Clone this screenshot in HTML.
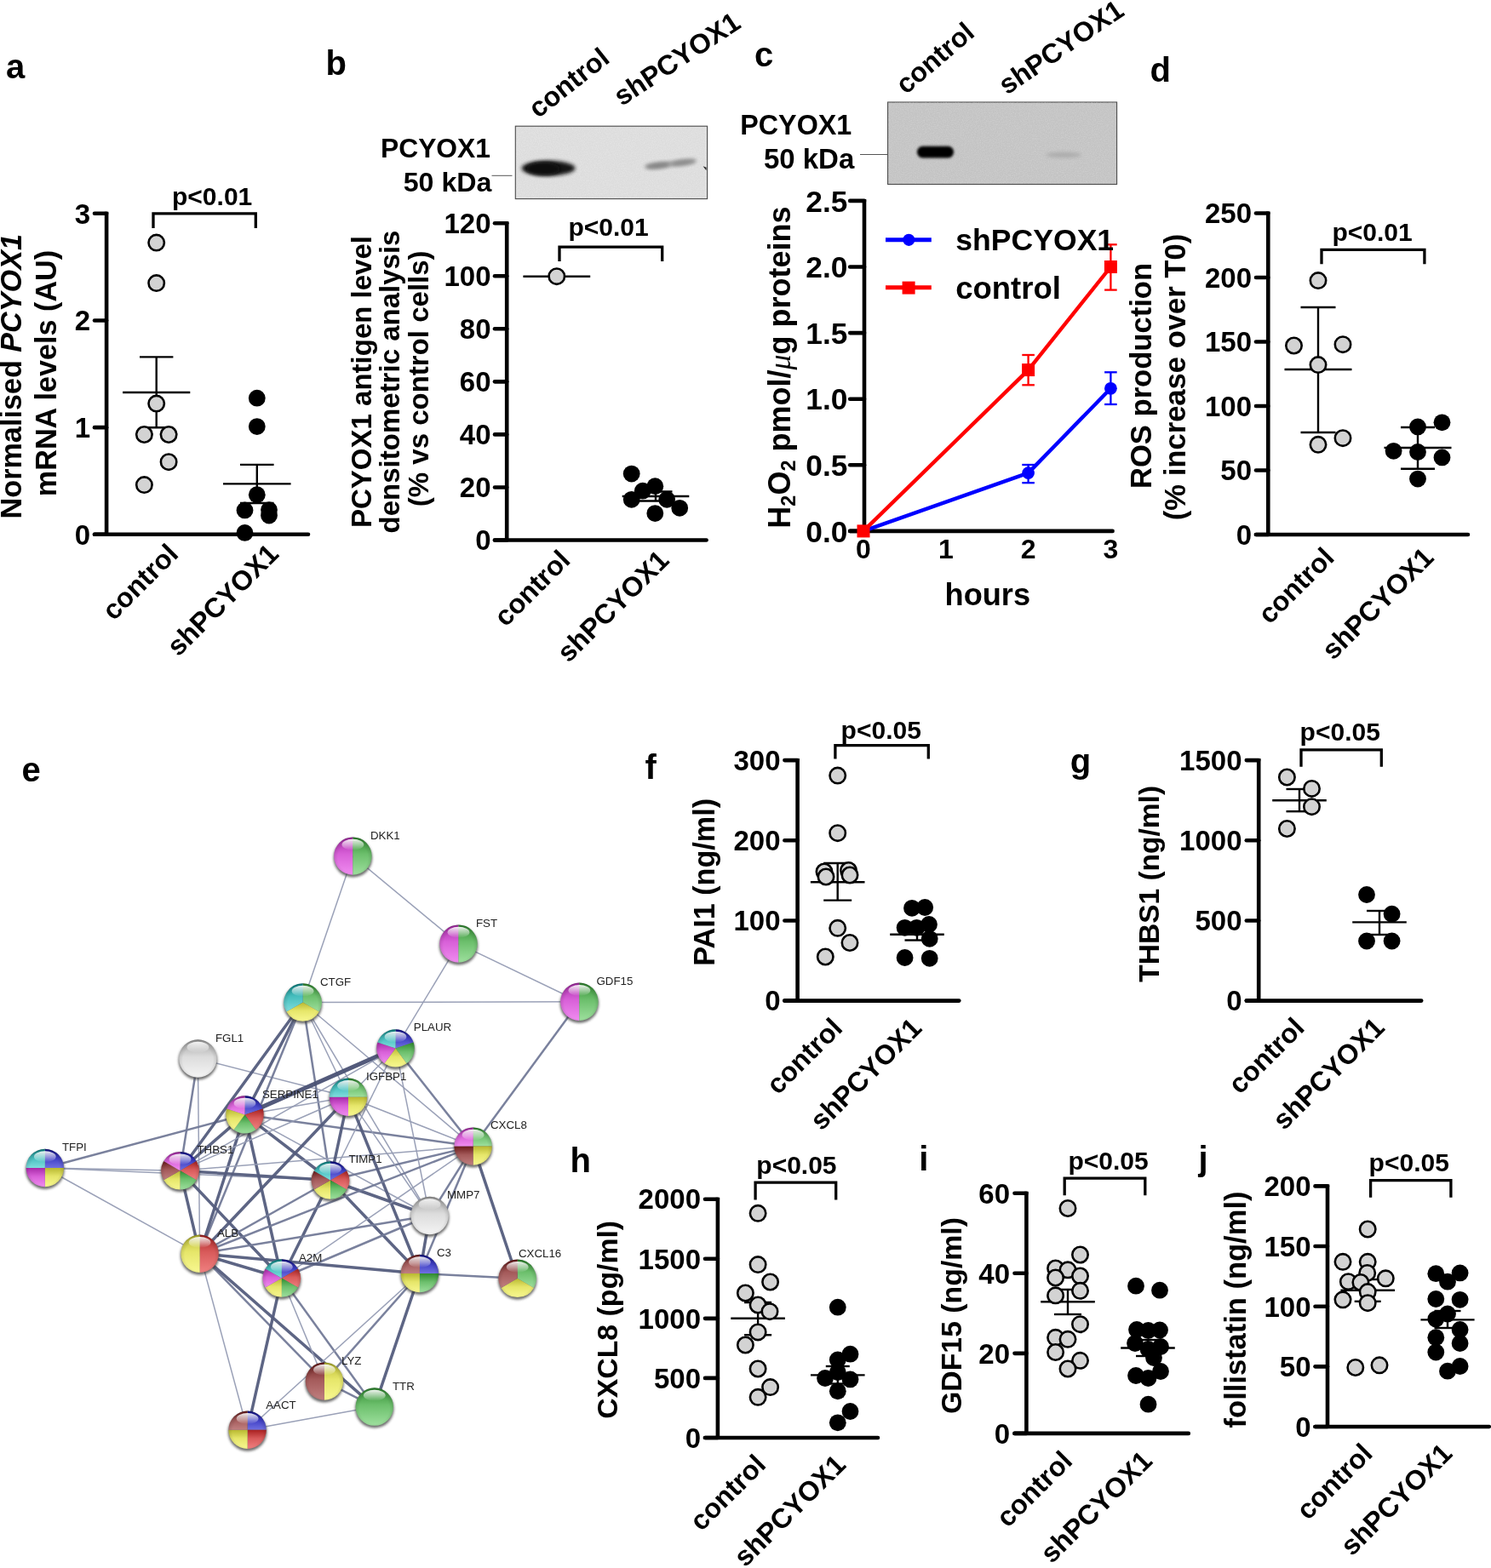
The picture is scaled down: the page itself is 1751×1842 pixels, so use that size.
<!DOCTYPE html>
<html><head><meta charset="utf-8"><title>PCYOX1 figure</title><style>html,body{margin:0;padding:0;background:#fff;}svg{display:block;}</style></head><body><svg xmlns="http://www.w3.org/2000/svg" width="1751" height="1842" viewBox="0 0 1751 1842" font-family="'Liberation Sans', Arial, Helvetica, sans-serif"><defs><filter id="blur2" x="-50%" y="-50%" width="200%" height="200%"><feGaussianBlur stdDeviation="2"/></filter><filter id="blur15" x="-50%" y="-50%" width="200%" height="200%"><feGaussianBlur stdDeviation="1.5"/></filter><filter id="blur25" x="-50%" y="-50%" width="200%" height="200%"><feGaussianBlur stdDeviation="2.5"/></filter><filter id="shadow" x="-50%" y="-50%" width="200%" height="200%"><feGaussianBlur stdDeviation="1.6"/></filter><linearGradient id="g_magenta" x1="0" y1="0" x2="0" y2="1"><stop offset="0" stop-color="#a82aa8"/><stop offset="0.45" stop-color="#d860d8"/><stop offset="1" stop-color="#f08cf0"/></linearGradient><linearGradient id="g_green" x1="0" y1="0" x2="0" y2="1"><stop offset="0" stop-color="#2f8a2f"/><stop offset="0.45" stop-color="#6cbf6c"/><stop offset="1" stop-color="#9ee09e"/></linearGradient><linearGradient id="g_cyan" x1="0" y1="0" x2="0" y2="1"><stop offset="0" stop-color="#0f8a8a"/><stop offset="0.45" stop-color="#45bdbd"/><stop offset="1" stop-color="#80dede"/></linearGradient><linearGradient id="g_yellow" x1="0" y1="0" x2="0" y2="1"><stop offset="0" stop-color="#b8b830"/><stop offset="0.45" stop-color="#e6e66a"/><stop offset="1" stop-color="#f8f890"/></linearGradient><linearGradient id="g_blue" x1="0" y1="0" x2="0" y2="1"><stop offset="0" stop-color="#10108a"/><stop offset="0.45" stop-color="#3c3cc4"/><stop offset="1" stop-color="#7070e0"/></linearGradient><linearGradient id="g_red" x1="0" y1="0" x2="0" y2="1"><stop offset="0" stop-color="#a82020"/><stop offset="0.45" stop-color="#d85a5a"/><stop offset="1" stop-color="#f08080"/></linearGradient><linearGradient id="g_brown" x1="0" y1="0" x2="0" y2="1"><stop offset="0" stop-color="#6a1a1a"/><stop offset="0.45" stop-color="#a45a5a"/><stop offset="1" stop-color="#c08080"/></linearGradient><linearGradient id="g_white" x1="0" y1="0" x2="0" y2="1"><stop offset="0" stop-color="#a0a0a0"/><stop offset="0.45" stop-color="#dcdcdc"/><stop offset="1" stop-color="#f4f4f4"/></linearGradient><radialGradient id="rim" cx="0.5" cy="0.55" r="0.55"><stop offset="0.72" stop-color="#000" stop-opacity="0"/><stop offset="0.93" stop-color="#000" stop-opacity="0.12"/><stop offset="1" stop-color="#000" stop-opacity="0.3"/></radialGradient><linearGradient id="hl" x1="0" y1="0" x2="0" y2="1"><stop offset="0" stop-color="#fff" stop-opacity="0.92"/><stop offset="0.55" stop-color="#fff" stop-opacity="0.45"/><stop offset="1" stop-color="#fff" stop-opacity="0"/></linearGradient><filter id="noiseB" x="0" y="0" width="100%" height="100%"><feTurbulence type="fractalNoise" baseFrequency="0.8" numOctaves="2" seed="3"/><feColorMatrix type="matrix" values="0 0 0 0 0.86  0 0 0 0 0.86  0 0 0 0 0.86  0 0 0 -1.6 1.05"/></filter><filter id="noiseC" x="0" y="0" width="100%" height="100%"><feTurbulence type="fractalNoise" baseFrequency="0.8" numOctaves="2" seed="7"/><feColorMatrix type="matrix" values="0 0 0 0 0.74  0 0 0 0 0.74  0 0 0 0 0.74  0 0 0 -1.6 1.05"/></filter><pattern id="blotNoiseB" width="6" height="6" patternUnits="userSpaceOnUse"><rect width="6" height="6" fill="#dcdcdc"/><rect x="1" y="2" width="1" height="1" fill="#cfcfcf"/><rect x="4" y="4" width="1" height="1" fill="#e6e6e6"/></pattern><pattern id="blotNoiseC" width="6" height="6" patternUnits="userSpaceOnUse"><rect width="6" height="6" fill="#c3c3c3"/><rect x="2" y="1" width="1" height="1" fill="#b9b9b9"/><rect x="4" y="4" width="1" height="1" fill="#cbcbcb"/></pattern></defs><rect width="1751" height="1842" fill="#fff"/><text x="25.5" y="918" font-size="40" font-weight="bold" text-anchor="start" fill="#000">e</text>
<line x1="414.4" y1="1005.6" x2="355.6" y2="1177.5" stroke="#959cb4" stroke-width="1.5" stroke-linecap="butt" opacity="0.95"/>
<line x1="414.4" y1="1005.6" x2="538.5" y2="1108.6" stroke="#959cb4" stroke-width="1.5" stroke-linecap="butt" opacity="0.95"/>
<line x1="538.5" y1="1108.6" x2="680.4" y2="1176.8" stroke="#959cb4" stroke-width="1.5" stroke-linecap="butt" opacity="0.95"/>
<line x1="538.5" y1="1108.6" x2="464.5" y2="1231.4" stroke="#959cb4" stroke-width="1.5" stroke-linecap="butt" opacity="0.95"/>
<line x1="355.6" y1="1177.5" x2="680.4" y2="1176.8" stroke="#959cb4" stroke-width="1.5" stroke-linecap="butt" opacity="0.95"/>
<line x1="680.4" y1="1176.8" x2="555.6" y2="1346.6" stroke="#737b98" stroke-width="2.5" stroke-linecap="butt" opacity="0.95"/>
<line x1="232.4" y1="1243.5" x2="211.5" y2="1375.2" stroke="#737b98" stroke-width="2.5" stroke-linecap="butt" opacity="0.95"/>
<line x1="232.4" y1="1243.5" x2="234.6" y2="1472.8" stroke="#959cb4" stroke-width="1.5" stroke-linecap="butt" opacity="0.95"/>
<line x1="232.4" y1="1243.5" x2="409" y2="1288.8" stroke="#959cb4" stroke-width="1.5" stroke-linecap="butt" opacity="0.95"/>
<line x1="52.8" y1="1372" x2="287.5" y2="1309.4" stroke="#737b98" stroke-width="2.5" stroke-linecap="butt" opacity="0.95"/>
<line x1="52.8" y1="1372" x2="211.5" y2="1375.2" stroke="#959cb4" stroke-width="1.5" stroke-linecap="butt" opacity="0.95"/>
<line x1="52.8" y1="1372" x2="234.6" y2="1472.8" stroke="#959cb4" stroke-width="1.5" stroke-linecap="butt" opacity="0.95"/>
<line x1="52.8" y1="1372" x2="388" y2="1386.5" stroke="#959cb4" stroke-width="1.5" stroke-linecap="butt" opacity="0.95"/>
<line x1="355.6" y1="1177.5" x2="287.5" y2="1309.4" stroke="#555d7e" stroke-width="3.5" stroke-linecap="butt" opacity="0.95"/>
<line x1="355.6" y1="1177.5" x2="211.5" y2="1375.2" stroke="#555d7e" stroke-width="3.5" stroke-linecap="butt" opacity="0.95"/>
<line x1="355.6" y1="1177.5" x2="234.6" y2="1472.8" stroke="#737b98" stroke-width="2.5" stroke-linecap="butt" opacity="0.95"/>
<line x1="355.6" y1="1177.5" x2="388" y2="1386.5" stroke="#737b98" stroke-width="2.5" stroke-linecap="butt" opacity="0.95"/>
<line x1="355.6" y1="1177.5" x2="555.6" y2="1346.6" stroke="#959cb4" stroke-width="1.5" stroke-linecap="butt" opacity="0.95"/>
<line x1="355.6" y1="1177.5" x2="504.6" y2="1428" stroke="#959cb4" stroke-width="1.5" stroke-linecap="butt" opacity="0.95"/>
<line x1="355.6" y1="1177.5" x2="409" y2="1288.8" stroke="#959cb4" stroke-width="1.5" stroke-linecap="butt" opacity="0.95"/>
<line x1="287.5" y1="1309.4" x2="464.5" y2="1231.4" stroke="#4a5274" stroke-width="5" stroke-linecap="butt" opacity="0.95"/>
<line x1="287.5" y1="1309.4" x2="409" y2="1288.8" stroke="#959cb4" stroke-width="1.5" stroke-linecap="butt" opacity="0.95"/>
<line x1="287.5" y1="1309.4" x2="555.6" y2="1346.6" stroke="#737b98" stroke-width="2.5" stroke-linecap="butt" opacity="0.95"/>
<line x1="287.5" y1="1309.4" x2="211.5" y2="1375.2" stroke="#555d7e" stroke-width="3.5" stroke-linecap="butt" opacity="0.95"/>
<line x1="287.5" y1="1309.4" x2="388" y2="1386.5" stroke="#555d7e" stroke-width="3.5" stroke-linecap="butt" opacity="0.95"/>
<line x1="287.5" y1="1309.4" x2="234.6" y2="1472.8" stroke="#555d7e" stroke-width="3.5" stroke-linecap="butt" opacity="0.95"/>
<line x1="287.5" y1="1309.4" x2="330.8" y2="1501.5" stroke="#555d7e" stroke-width="3.5" stroke-linecap="butt" opacity="0.95"/>
<line x1="287.5" y1="1309.4" x2="504.6" y2="1428" stroke="#959cb4" stroke-width="1.5" stroke-linecap="butt" opacity="0.95"/>
<line x1="211.5" y1="1375.2" x2="388" y2="1386.5" stroke="#555d7e" stroke-width="3.5" stroke-linecap="butt" opacity="0.95"/>
<line x1="211.5" y1="1375.2" x2="555.6" y2="1346.6" stroke="#959cb4" stroke-width="1.5" stroke-linecap="butt" opacity="0.95"/>
<line x1="211.5" y1="1375.2" x2="234.6" y2="1472.8" stroke="#555d7e" stroke-width="3.5" stroke-linecap="butt" opacity="0.95"/>
<line x1="211.5" y1="1375.2" x2="330.8" y2="1501.5" stroke="#555d7e" stroke-width="3.5" stroke-linecap="butt" opacity="0.95"/>
<line x1="211.5" y1="1375.2" x2="409" y2="1288.8" stroke="#959cb4" stroke-width="1.5" stroke-linecap="butt" opacity="0.95"/>
<line x1="211.5" y1="1375.2" x2="464.5" y2="1231.4" stroke="#959cb4" stroke-width="1.5" stroke-linecap="butt" opacity="0.95"/>
<line x1="388" y1="1386.5" x2="409" y2="1288.8" stroke="#555d7e" stroke-width="3.5" stroke-linecap="butt" opacity="0.95"/>
<line x1="388" y1="1386.5" x2="555.6" y2="1346.6" stroke="#737b98" stroke-width="2.5" stroke-linecap="butt" opacity="0.95"/>
<line x1="388" y1="1386.5" x2="504.6" y2="1428" stroke="#555d7e" stroke-width="3.5" stroke-linecap="butt" opacity="0.95"/>
<line x1="388" y1="1386.5" x2="492.9" y2="1496" stroke="#555d7e" stroke-width="3.5" stroke-linecap="butt" opacity="0.95"/>
<line x1="388" y1="1386.5" x2="330.8" y2="1501.5" stroke="#555d7e" stroke-width="3.5" stroke-linecap="butt" opacity="0.95"/>
<line x1="388" y1="1386.5" x2="234.6" y2="1472.8" stroke="#737b98" stroke-width="2.5" stroke-linecap="butt" opacity="0.95"/>
<line x1="388" y1="1386.5" x2="464.5" y2="1231.4" stroke="#959cb4" stroke-width="1.5" stroke-linecap="butt" opacity="0.95"/>
<line x1="409" y1="1288.8" x2="234.6" y2="1472.8" stroke="#555d7e" stroke-width="3.5" stroke-linecap="butt" opacity="0.95"/>
<line x1="409" y1="1288.8" x2="492.9" y2="1496" stroke="#555d7e" stroke-width="3.5" stroke-linecap="butt" opacity="0.95"/>
<line x1="409" y1="1288.8" x2="555.6" y2="1346.6" stroke="#959cb4" stroke-width="1.5" stroke-linecap="butt" opacity="0.95"/>
<line x1="409" y1="1288.8" x2="504.6" y2="1428" stroke="#959cb4" stroke-width="1.5" stroke-linecap="butt" opacity="0.95"/>
<line x1="409" y1="1288.8" x2="464.5" y2="1231.4" stroke="#959cb4" stroke-width="1.5" stroke-linecap="butt" opacity="0.95"/>
<line x1="464.5" y1="1231.4" x2="555.6" y2="1346.6" stroke="#737b98" stroke-width="2.5" stroke-linecap="butt" opacity="0.95"/>
<line x1="464.5" y1="1231.4" x2="504.6" y2="1428" stroke="#959cb4" stroke-width="1.5" stroke-linecap="butt" opacity="0.95"/>
<line x1="555.6" y1="1346.6" x2="504.6" y2="1428" stroke="#737b98" stroke-width="2.5" stroke-linecap="butt" opacity="0.95"/>
<line x1="555.6" y1="1346.6" x2="492.9" y2="1496" stroke="#737b98" stroke-width="2.5" stroke-linecap="butt" opacity="0.95"/>
<line x1="555.6" y1="1346.6" x2="607.7" y2="1501.8" stroke="#555d7e" stroke-width="3.5" stroke-linecap="butt" opacity="0.95"/>
<line x1="555.6" y1="1346.6" x2="234.6" y2="1472.8" stroke="#737b98" stroke-width="2.5" stroke-linecap="butt" opacity="0.95"/>
<line x1="555.6" y1="1346.6" x2="330.8" y2="1501.5" stroke="#959cb4" stroke-width="1.5" stroke-linecap="butt" opacity="0.95"/>
<line x1="504.6" y1="1428" x2="492.9" y2="1496" stroke="#555d7e" stroke-width="3.5" stroke-linecap="butt" opacity="0.95"/>
<line x1="504.6" y1="1428" x2="234.6" y2="1472.8" stroke="#737b98" stroke-width="2.5" stroke-linecap="butt" opacity="0.95"/>
<line x1="504.6" y1="1428" x2="330.8" y2="1501.5" stroke="#737b98" stroke-width="2.5" stroke-linecap="butt" opacity="0.95"/>
<line x1="234.6" y1="1472.8" x2="330.8" y2="1501.5" stroke="#555d7e" stroke-width="3.5" stroke-linecap="butt" opacity="0.95"/>
<line x1="234.6" y1="1472.8" x2="492.9" y2="1496" stroke="#555d7e" stroke-width="3.5" stroke-linecap="butt" opacity="0.95"/>
<line x1="234.6" y1="1472.8" x2="380.9" y2="1622.6" stroke="#737b98" stroke-width="2.5" stroke-linecap="butt" opacity="0.95"/>
<line x1="234.6" y1="1472.8" x2="439.8" y2="1652.6" stroke="#555d7e" stroke-width="3.5" stroke-linecap="butt" opacity="0.95"/>
<line x1="234.6" y1="1472.8" x2="290.6" y2="1679.8" stroke="#959cb4" stroke-width="1.5" stroke-linecap="butt" opacity="0.95"/>
<line x1="330.8" y1="1501.5" x2="290.6" y2="1679.8" stroke="#555d7e" stroke-width="3.5" stroke-linecap="butt" opacity="0.95"/>
<line x1="330.8" y1="1501.5" x2="380.9" y2="1622.6" stroke="#959cb4" stroke-width="1.5" stroke-linecap="butt" opacity="0.95"/>
<line x1="330.8" y1="1501.5" x2="439.8" y2="1652.6" stroke="#737b98" stroke-width="2.5" stroke-linecap="butt" opacity="0.95"/>
<line x1="492.9" y1="1496" x2="607.7" y2="1501.8" stroke="#737b98" stroke-width="2.5" stroke-linecap="butt" opacity="0.95"/>
<line x1="492.9" y1="1496" x2="439.8" y2="1652.6" stroke="#555d7e" stroke-width="3.5" stroke-linecap="butt" opacity="0.95"/>
<line x1="492.9" y1="1496" x2="380.9" y2="1622.6" stroke="#737b98" stroke-width="2.5" stroke-linecap="butt" opacity="0.95"/>
<line x1="492.9" y1="1496" x2="290.6" y2="1679.8" stroke="#959cb4" stroke-width="1.5" stroke-linecap="butt" opacity="0.95"/>
<line x1="380.9" y1="1622.6" x2="439.8" y2="1652.6" stroke="#737b98" stroke-width="2.5" stroke-linecap="butt" opacity="0.95"/>
<line x1="290.6" y1="1679.8" x2="439.8" y2="1652.6" stroke="#959cb4" stroke-width="1.5" stroke-linecap="butt" opacity="0.95"/>
<circle cx="414.4" cy="1007.8" r="22.8" fill="#3a3a3a" opacity="0.75" filter="url(#shadow)"/>
<path d="M414.4 1005.6 L414.4 983.4 A22.2 22.2 0 0 0 414.4 1027.8 Z" fill="url(#g_magenta)"/>
<path d="M414.4 1005.6 L414.4 1027.8 A22.2 22.2 0 0 0 414.4 983.4 Z" fill="url(#g_green)"/>
<circle cx="414.4" cy="1005.6" r="22.2" fill="url(#rim)"/>
<ellipse cx="414.4" cy="992.28" rx="12.88" ry="6.44" fill="url(#hl)"/>
<text x="435" y="985.5" font-size="13.3" font-weight="normal" fill="#222">DKK1</text>
<circle cx="538.5" cy="1110.8" r="22.8" fill="#3a3a3a" opacity="0.75" filter="url(#shadow)"/>
<path d="M538.5 1108.6 L538.5 1086.4 A22.2 22.2 0 0 0 538.5 1130.8 Z" fill="url(#g_magenta)"/>
<path d="M538.5 1108.6 L538.5 1130.8 A22.2 22.2 0 0 0 538.5 1086.4 Z" fill="url(#g_green)"/>
<circle cx="538.5" cy="1108.6" r="22.2" fill="url(#rim)"/>
<ellipse cx="538.5" cy="1095.28" rx="12.88" ry="6.44" fill="url(#hl)"/>
<text x="559" y="1088.5" font-size="13.3" font-weight="normal" fill="#222">FST</text>
<circle cx="680.4" cy="1179" r="22.8" fill="#3a3a3a" opacity="0.75" filter="url(#shadow)"/>
<path d="M680.4 1176.8 L680.4 1154.6 A22.2 22.2 0 0 0 680.4 1199 Z" fill="url(#g_magenta)"/>
<path d="M680.4 1176.8 L680.4 1199 A22.2 22.2 0 0 0 680.4 1154.6 Z" fill="url(#g_green)"/>
<circle cx="680.4" cy="1176.8" r="22.2" fill="url(#rim)"/>
<ellipse cx="680.4" cy="1163.48" rx="12.88" ry="6.44" fill="url(#hl)"/>
<text x="700.5" y="1157" font-size="13.3" font-weight="normal" fill="#222">GDF15</text>
<circle cx="355.6" cy="1179.7" r="22.8" fill="#3a3a3a" opacity="0.75" filter="url(#shadow)"/>
<path d="M355.6 1177.5 L374.83 1188.6 A22.2 22.2 0 0 0 355.6 1155.3 Z" fill="url(#g_green)"/>
<path d="M355.6 1177.5 L336.37 1188.6 A22.2 22.2 0 0 0 374.83 1188.6 Z" fill="url(#g_yellow)"/>
<path d="M355.6 1177.5 L355.6 1155.3 A22.2 22.2 0 0 0 336.37 1188.6 Z" fill="url(#g_cyan)"/>
<circle cx="355.6" cy="1177.5" r="22.2" fill="url(#rim)"/>
<ellipse cx="355.6" cy="1164.18" rx="12.88" ry="6.44" fill="url(#hl)"/>
<text x="376" y="1158" font-size="13.3" font-weight="normal" fill="#222">CTGF</text>
<circle cx="464.5" cy="1233.6" r="22.8" fill="#3a3a3a" opacity="0.75" filter="url(#shadow)"/>
<path d="M464.5 1231.4 L485.61 1224.54 A22.2 22.2 0 0 0 464.5 1209.2 Z" fill="url(#g_blue)"/>
<path d="M464.5 1231.4 L477.55 1249.36 A22.2 22.2 0 0 0 485.61 1224.54 Z" fill="url(#g_green)"/>
<path d="M464.5 1231.4 L451.45 1249.36 A22.2 22.2 0 0 0 477.55 1249.36 Z" fill="url(#g_yellow)"/>
<path d="M464.5 1231.4 L443.39 1224.54 A22.2 22.2 0 0 0 451.45 1249.36 Z" fill="url(#g_magenta)"/>
<path d="M464.5 1231.4 L464.5 1209.2 A22.2 22.2 0 0 0 443.39 1224.54 Z" fill="url(#g_cyan)"/>
<circle cx="464.5" cy="1231.4" r="22.2" fill="url(#rim)"/>
<ellipse cx="464.5" cy="1218.08" rx="12.88" ry="6.44" fill="url(#hl)"/>
<text x="485.8" y="1211" font-size="13.3" font-weight="normal" fill="#222">PLAUR</text>
<circle cx="232.4" cy="1245.7" r="22.8" fill="#3a3a3a" opacity="0.75" filter="url(#shadow)"/>
<path d="M232.4 1243.5 m-22.2 0 a22.2 22.2 0 1 0 44.4 0 a22.2 22.2 0 1 0 -44.4 0Z" fill="url(#g_white)"/>
<circle cx="232.4" cy="1243.5" r="22.2" fill="url(#rim)"/>
<ellipse cx="232.4" cy="1230.18" rx="12.88" ry="6.44" fill="url(#hl)"/>
<text x="253" y="1224" font-size="13.3" font-weight="normal" fill="#222">FGL1</text>
<circle cx="409" cy="1291" r="22.8" fill="#3a3a3a" opacity="0.75" filter="url(#shadow)"/>
<path d="M409 1288.8 L431.2 1288.8 A22.2 22.2 0 0 0 409 1266.6 Z" fill="url(#g_green)"/>
<path d="M409 1288.8 L409 1311 A22.2 22.2 0 0 0 431.2 1288.8 Z" fill="url(#g_yellow)"/>
<path d="M409 1288.8 L386.8 1288.8 A22.2 22.2 0 0 0 409 1311 Z" fill="url(#g_magenta)"/>
<path d="M409 1288.8 L409 1266.6 A22.2 22.2 0 0 0 386.8 1288.8 Z" fill="url(#g_cyan)"/>
<circle cx="409" cy="1288.8" r="22.2" fill="url(#rim)"/>
<ellipse cx="409" cy="1275.48" rx="12.88" ry="6.44" fill="url(#hl)"/>
<text x="430" y="1268.5" font-size="13.3" font-weight="normal" fill="#222">IGFBP1</text>
<circle cx="287.5" cy="1311.6" r="22.8" fill="#3a3a3a" opacity="0.75" filter="url(#shadow)"/>
<path d="M287.5 1309.4 L308.61 1302.54 A22.2 22.2 0 0 0 287.5 1287.2 Z" fill="url(#g_blue)"/>
<path d="M287.5 1309.4 L300.55 1327.36 A22.2 22.2 0 0 0 308.61 1302.54 Z" fill="url(#g_red)"/>
<path d="M287.5 1309.4 L274.45 1327.36 A22.2 22.2 0 0 0 300.55 1327.36 Z" fill="url(#g_green)"/>
<path d="M287.5 1309.4 L266.39 1302.54 A22.2 22.2 0 0 0 274.45 1327.36 Z" fill="url(#g_yellow)"/>
<path d="M287.5 1309.4 L287.5 1287.2 A22.2 22.2 0 0 0 266.39 1302.54 Z" fill="url(#g_magenta)"/>
<circle cx="287.5" cy="1309.4" r="22.2" fill="url(#rim)"/>
<ellipse cx="287.5" cy="1296.08" rx="12.88" ry="6.44" fill="url(#hl)"/>
<text x="308" y="1290" font-size="13.3" font-weight="normal" fill="#222">SERPINE1</text>
<circle cx="555.6" cy="1348.8" r="22.8" fill="#3a3a3a" opacity="0.75" filter="url(#shadow)"/>
<path d="M555.6 1346.6 L577.8 1346.6 A22.2 22.2 0 0 0 555.6 1324.4 Z" fill="url(#g_green)"/>
<path d="M555.6 1346.6 L555.6 1368.8 A22.2 22.2 0 0 0 577.8 1346.6 Z" fill="url(#g_yellow)"/>
<path d="M555.6 1346.6 L533.4 1346.6 A22.2 22.2 0 0 0 555.6 1368.8 Z" fill="url(#g_brown)"/>
<path d="M555.6 1346.6 L555.6 1324.4 A22.2 22.2 0 0 0 533.4 1346.6 Z" fill="url(#g_magenta)"/>
<circle cx="555.6" cy="1346.6" r="22.2" fill="url(#rim)"/>
<ellipse cx="555.6" cy="1333.28" rx="12.88" ry="6.44" fill="url(#hl)"/>
<text x="576" y="1326" font-size="13.3" font-weight="normal" fill="#222">CXCL8</text>
<circle cx="52.8" cy="1374.2" r="22.8" fill="#3a3a3a" opacity="0.75" filter="url(#shadow)"/>
<path d="M52.8 1372 L75 1372 A22.2 22.2 0 0 0 52.8 1349.8 Z" fill="url(#g_blue)"/>
<path d="M52.8 1372 L52.8 1394.2 A22.2 22.2 0 0 0 75 1372 Z" fill="url(#g_yellow)"/>
<path d="M52.8 1372 L30.6 1372 A22.2 22.2 0 0 0 52.8 1394.2 Z" fill="url(#g_magenta)"/>
<path d="M52.8 1372 L52.8 1349.8 A22.2 22.2 0 0 0 30.6 1372 Z" fill="url(#g_cyan)"/>
<circle cx="52.8" cy="1372" r="22.2" fill="url(#rim)"/>
<ellipse cx="52.8" cy="1358.68" rx="12.88" ry="6.44" fill="url(#hl)"/>
<text x="73" y="1352" font-size="13.3" font-weight="normal" fill="#222">TFPI</text>
<circle cx="211.5" cy="1377.4" r="22.8" fill="#3a3a3a" opacity="0.75" filter="url(#shadow)"/>
<path d="M211.5 1375.2 L230.73 1364.1 A22.2 22.2 0 0 0 211.5 1353 Z" fill="url(#g_blue)"/>
<path d="M211.5 1375.2 L230.73 1386.3 A22.2 22.2 0 0 0 230.73 1364.1 Z" fill="url(#g_red)"/>
<path d="M211.5 1375.2 L211.5 1397.4 A22.2 22.2 0 0 0 230.73 1386.3 Z" fill="url(#g_green)"/>
<path d="M211.5 1375.2 L192.27 1386.3 A22.2 22.2 0 0 0 211.5 1397.4 Z" fill="url(#g_yellow)"/>
<path d="M211.5 1375.2 L192.27 1364.1 A22.2 22.2 0 0 0 192.27 1386.3 Z" fill="url(#g_brown)"/>
<path d="M211.5 1375.2 L211.5 1353 A22.2 22.2 0 0 0 192.27 1364.1 Z" fill="url(#g_magenta)"/>
<circle cx="211.5" cy="1375.2" r="22.2" fill="url(#rim)"/>
<ellipse cx="211.5" cy="1361.88" rx="12.88" ry="6.44" fill="url(#hl)"/>
<text x="231.5" y="1355" font-size="13.3" font-weight="normal" fill="#222">THBS1</text>
<circle cx="388" cy="1388.7" r="22.8" fill="#3a3a3a" opacity="0.75" filter="url(#shadow)"/>
<path d="M388 1386.5 L407.23 1375.4 A22.2 22.2 0 0 0 388 1364.3 Z" fill="url(#g_blue)"/>
<path d="M388 1386.5 L407.23 1397.6 A22.2 22.2 0 0 0 407.23 1375.4 Z" fill="url(#g_red)"/>
<path d="M388 1386.5 L388 1408.7 A22.2 22.2 0 0 0 407.23 1397.6 Z" fill="url(#g_green)"/>
<path d="M388 1386.5 L368.77 1397.6 A22.2 22.2 0 0 0 388 1408.7 Z" fill="url(#g_yellow)"/>
<path d="M388 1386.5 L368.77 1375.4 A22.2 22.2 0 0 0 368.77 1397.6 Z" fill="url(#g_brown)"/>
<path d="M388 1386.5 L388 1364.3 A22.2 22.2 0 0 0 368.77 1375.4 Z" fill="url(#g_cyan)"/>
<circle cx="388" cy="1386.5" r="22.2" fill="url(#rim)"/>
<ellipse cx="388" cy="1373.18" rx="12.88" ry="6.44" fill="url(#hl)"/>
<text x="409.4" y="1366" font-size="13.3" font-weight="normal" fill="#222">TIMP1</text>
<circle cx="504.6" cy="1430.2" r="22.8" fill="#3a3a3a" opacity="0.75" filter="url(#shadow)"/>
<path d="M504.6 1428 m-22.2 0 a22.2 22.2 0 1 0 44.4 0 a22.2 22.2 0 1 0 -44.4 0Z" fill="url(#g_white)"/>
<circle cx="504.6" cy="1428" r="22.2" fill="url(#rim)"/>
<ellipse cx="504.6" cy="1414.68" rx="12.88" ry="6.44" fill="url(#hl)"/>
<text x="525" y="1408" font-size="13.3" font-weight="normal" fill="#222">MMP7</text>
<circle cx="234.6" cy="1475" r="22.8" fill="#3a3a3a" opacity="0.75" filter="url(#shadow)"/>
<path d="M234.6 1472.8 L234.6 1495 A22.2 22.2 0 0 0 234.6 1450.6 Z" fill="url(#g_red)"/>
<path d="M234.6 1472.8 L234.6 1450.6 A22.2 22.2 0 0 0 234.6 1495 Z" fill="url(#g_yellow)"/>
<circle cx="234.6" cy="1472.8" r="22.2" fill="url(#rim)"/>
<ellipse cx="234.6" cy="1459.48" rx="12.88" ry="6.44" fill="url(#hl)"/>
<text x="255" y="1453" font-size="13.3" font-weight="normal" fill="#222">ALB</text>
<circle cx="330.8" cy="1503.7" r="22.8" fill="#3a3a3a" opacity="0.75" filter="url(#shadow)"/>
<path d="M330.8 1501.5 L350.03 1490.4 A22.2 22.2 0 0 0 330.8 1479.3 Z" fill="url(#g_blue)"/>
<path d="M330.8 1501.5 L350.03 1512.6 A22.2 22.2 0 0 0 350.03 1490.4 Z" fill="url(#g_red)"/>
<path d="M330.8 1501.5 L330.8 1523.7 A22.2 22.2 0 0 0 350.03 1512.6 Z" fill="url(#g_green)"/>
<path d="M330.8 1501.5 L311.57 1512.6 A22.2 22.2 0 0 0 330.8 1523.7 Z" fill="url(#g_yellow)"/>
<path d="M330.8 1501.5 L311.57 1490.4 A22.2 22.2 0 0 0 311.57 1512.6 Z" fill="url(#g_magenta)"/>
<path d="M330.8 1501.5 L330.8 1479.3 A22.2 22.2 0 0 0 311.57 1490.4 Z" fill="url(#g_cyan)"/>
<circle cx="330.8" cy="1501.5" r="22.2" fill="url(#rim)"/>
<ellipse cx="330.8" cy="1488.18" rx="12.88" ry="6.44" fill="url(#hl)"/>
<text x="351" y="1481.5" font-size="13.3" font-weight="normal" fill="#222">A2M</text>
<circle cx="492.9" cy="1498.2" r="22.8" fill="#3a3a3a" opacity="0.75" filter="url(#shadow)"/>
<path d="M492.9 1496 L515.1 1496 A22.2 22.2 0 0 0 492.9 1473.8 Z" fill="url(#g_blue)"/>
<path d="M492.9 1496 L492.9 1518.2 A22.2 22.2 0 0 0 515.1 1496 Z" fill="url(#g_green)"/>
<path d="M492.9 1496 L470.7 1496 A22.2 22.2 0 0 0 492.9 1518.2 Z" fill="url(#g_yellow)"/>
<path d="M492.9 1496 L492.9 1473.8 A22.2 22.2 0 0 0 470.7 1496 Z" fill="url(#g_brown)"/>
<circle cx="492.9" cy="1496" r="22.2" fill="url(#rim)"/>
<ellipse cx="492.9" cy="1482.68" rx="12.88" ry="6.44" fill="url(#hl)"/>
<text x="513" y="1476" font-size="13.3" font-weight="normal" fill="#222">C3</text>
<circle cx="607.7" cy="1504" r="22.8" fill="#3a3a3a" opacity="0.75" filter="url(#shadow)"/>
<path d="M607.7 1501.8 L626.93 1512.9 A22.2 22.2 0 0 0 607.7 1479.6 Z" fill="url(#g_green)"/>
<path d="M607.7 1501.8 L588.47 1512.9 A22.2 22.2 0 0 0 626.93 1512.9 Z" fill="url(#g_yellow)"/>
<path d="M607.7 1501.8 L607.7 1479.6 A22.2 22.2 0 0 0 588.47 1512.9 Z" fill="url(#g_brown)"/>
<circle cx="607.7" cy="1501.8" r="22.2" fill="url(#rim)"/>
<ellipse cx="607.7" cy="1488.48" rx="12.88" ry="6.44" fill="url(#hl)"/>
<text x="609" y="1477" font-size="13.3" font-weight="normal" fill="#222">CXCL16</text>
<circle cx="380.9" cy="1624.8" r="22.8" fill="#3a3a3a" opacity="0.75" filter="url(#shadow)"/>
<path d="M380.9 1622.6 L380.9 1644.8 A22.2 22.2 0 0 0 380.9 1600.4 Z" fill="url(#g_yellow)"/>
<path d="M380.9 1622.6 L380.9 1600.4 A22.2 22.2 0 0 0 380.9 1644.8 Z" fill="url(#g_brown)"/>
<circle cx="380.9" cy="1622.6" r="22.2" fill="url(#rim)"/>
<ellipse cx="380.9" cy="1609.28" rx="12.88" ry="6.44" fill="url(#hl)"/>
<text x="401" y="1602.5" font-size="13.3" font-weight="normal" fill="#222">LYZ</text>
<circle cx="439.8" cy="1654.8" r="22.8" fill="#3a3a3a" opacity="0.75" filter="url(#shadow)"/>
<path d="M439.8 1652.6 m-22.2 0 a22.2 22.2 0 1 0 44.4 0 a22.2 22.2 0 1 0 -44.4 0Z" fill="url(#g_green)"/>
<circle cx="439.8" cy="1652.6" r="22.2" fill="url(#rim)"/>
<ellipse cx="439.8" cy="1639.28" rx="12.88" ry="6.44" fill="url(#hl)"/>
<text x="461" y="1633.4" font-size="13.3" font-weight="normal" fill="#222">TTR</text>
<circle cx="290.6" cy="1682" r="22.8" fill="#3a3a3a" opacity="0.75" filter="url(#shadow)"/>
<path d="M290.6 1679.8 L312.8 1679.8 A22.2 22.2 0 0 0 290.6 1657.6 Z" fill="url(#g_blue)"/>
<path d="M290.6 1679.8 L290.6 1702 A22.2 22.2 0 0 0 312.8 1679.8 Z" fill="url(#g_red)"/>
<path d="M290.6 1679.8 L268.4 1679.8 A22.2 22.2 0 0 0 290.6 1702 Z" fill="url(#g_yellow)"/>
<path d="M290.6 1679.8 L290.6 1657.6 A22.2 22.2 0 0 0 268.4 1679.8 Z" fill="url(#g_brown)"/>
<circle cx="290.6" cy="1679.8" r="22.2" fill="url(#rim)"/>
<ellipse cx="290.6" cy="1666.48" rx="12.88" ry="6.44" fill="url(#hl)"/>
<text x="312.2" y="1655.1" font-size="13.3" font-weight="normal" fill="#222">AACT</text>
<text x="6.9" y="91.6" font-size="40" font-weight="bold" text-anchor="start" fill="#000">a</text>
<line x1="125.1" y1="248.79" x2="125.1" y2="627.8" stroke="#000" stroke-width="4.6" stroke-linecap="butt"/>
<line x1="111" y1="627.8" x2="125.1" y2="627.8" stroke="#000" stroke-width="4.6" stroke-linecap="round"/>
<text x="106" y="639.61" font-size="33" font-weight="bold" text-anchor="end" fill="#000">0</text>
<line x1="111" y1="502.13" x2="125.1" y2="502.13" stroke="#000" stroke-width="4.6" stroke-linecap="round"/>
<text x="106" y="513.94" font-size="33" font-weight="bold" text-anchor="end" fill="#000">1</text>
<line x1="111" y1="376.46" x2="125.1" y2="376.46" stroke="#000" stroke-width="4.6" stroke-linecap="round"/>
<text x="106" y="388.27" font-size="33" font-weight="bold" text-anchor="end" fill="#000">2</text>
<line x1="111" y1="250.79" x2="125.1" y2="250.79" stroke="#000" stroke-width="4.6" stroke-linecap="round"/>
<text x="106" y="262.6" font-size="33" font-weight="bold" text-anchor="end" fill="#000">3</text>
<line x1="111" y1="627.8" x2="362" y2="627.8" stroke="#000" stroke-width="4.6" stroke-linecap="round"/>
<text font-size="34.2" font-weight="bold" text-anchor="middle" transform="translate(25.3 442.2) rotate(-90)">Normalised <tspan font-style="italic">PCYOX1</tspan></text>
<text font-size="34.2" font-weight="bold" text-anchor="middle" transform="translate(66.3 438.5) rotate(-90)">mRNA levels (AU)</text>
<line x1="144.1" y1="461" x2="223.3" y2="461" stroke="#000" stroke-width="2.4" stroke-linecap="butt"/>
<line x1="183.7" y1="419.4" x2="183.7" y2="502.2" stroke="#000" stroke-width="2.4" stroke-linecap="butt"/>
<line x1="164" y1="419.4" x2="203.4" y2="419.4" stroke="#000" stroke-width="2.4" stroke-linecap="butt"/>
<line x1="164" y1="502.2" x2="203.4" y2="502.2" stroke="#000" stroke-width="2.4" stroke-linecap="butt"/>
<circle cx="183.7" cy="285.1" r="9.2" fill="#d3d3d3" stroke="#000" stroke-width="2.6"/>
<circle cx="183.7" cy="332.6" r="9.2" fill="#d3d3d3" stroke="#000" stroke-width="2.6"/>
<circle cx="183.7" cy="474.1" r="9.2" fill="#d3d3d3" stroke="#000" stroke-width="2.6"/>
<circle cx="169.4" cy="510.5" r="9.2" fill="#d3d3d3" stroke="#000" stroke-width="2.6"/>
<circle cx="198.1" cy="510.5" r="9.2" fill="#d3d3d3" stroke="#000" stroke-width="2.6"/>
<circle cx="198.1" cy="542.7" r="9.2" fill="#d3d3d3" stroke="#000" stroke-width="2.6"/>
<circle cx="169.4" cy="569.6" r="9.2" fill="#d3d3d3" stroke="#000" stroke-width="2.6"/>
<line x1="262" y1="568.4" x2="341.6" y2="568.4" stroke="#000" stroke-width="2.4" stroke-linecap="butt"/>
<line x1="301.8" y1="545.9" x2="301.8" y2="591" stroke="#000" stroke-width="2.4" stroke-linecap="butt"/>
<line x1="282" y1="545.9" x2="321.6" y2="545.9" stroke="#000" stroke-width="2.4" stroke-linecap="butt"/>
<line x1="282" y1="591" x2="321.6" y2="591" stroke="#000" stroke-width="2.4" stroke-linecap="butt"/>
<circle cx="301.8" cy="467.7" r="9.9" fill="#000"/>
<circle cx="301.8" cy="501.1" r="9.9" fill="#000"/>
<circle cx="301.8" cy="581.2" r="9.9" fill="#000"/>
<circle cx="287.5" cy="599.4" r="9.9" fill="#000"/>
<circle cx="316" cy="599.1" r="9.9" fill="#000"/>
<circle cx="316" cy="605.6" r="9.9" fill="#000"/>
<circle cx="287.5" cy="625.9" r="9.9" fill="#000"/>
<path d="M180 268 L180 250.8 L300.3 250.8 L300.3 268" fill="none" stroke="#000" stroke-width="3.3" stroke-linejoin="miter"/>
<text x="249.14" y="240.8" font-size="30" font-weight="bold" text-anchor="middle" fill="#000">p&lt;0.01</text>
<text x="211" y="652.6" font-size="32.4" font-weight="bold" text-anchor="end" fill="#000" transform="rotate(-45 211 652.6)">control</text>
<text x="329.1" y="652.6" font-size="32.4" font-weight="bold" text-anchor="end" fill="#000" transform="rotate(-45 329.1 652.6)">shPCYOX1</text>
<text x="382.5" y="88.4" font-size="40" font-weight="bold" text-anchor="start" fill="#000">b</text>
<line x1="595.2" y1="260.2" x2="595.2" y2="634.5" stroke="#000" stroke-width="4.6" stroke-linecap="butt"/>
<line x1="581" y1="634.5" x2="595.2" y2="634.5" stroke="#000" stroke-width="4.6" stroke-linecap="round"/>
<text x="576.5" y="646.31" font-size="33" font-weight="bold" text-anchor="end" fill="#000">0</text>
<line x1="581" y1="572.45" x2="595.2" y2="572.45" stroke="#000" stroke-width="4.6" stroke-linecap="round"/>
<text x="576.5" y="584.26" font-size="33" font-weight="bold" text-anchor="end" fill="#000">20</text>
<line x1="581" y1="510.4" x2="595.2" y2="510.4" stroke="#000" stroke-width="4.6" stroke-linecap="round"/>
<text x="576.5" y="522.21" font-size="33" font-weight="bold" text-anchor="end" fill="#000">40</text>
<line x1="581" y1="448.35" x2="595.2" y2="448.35" stroke="#000" stroke-width="4.6" stroke-linecap="round"/>
<text x="576.5" y="460.16" font-size="33" font-weight="bold" text-anchor="end" fill="#000">60</text>
<line x1="581" y1="386.3" x2="595.2" y2="386.3" stroke="#000" stroke-width="4.6" stroke-linecap="round"/>
<text x="576.5" y="398.11" font-size="33" font-weight="bold" text-anchor="end" fill="#000">80</text>
<line x1="581" y1="324.25" x2="595.2" y2="324.25" stroke="#000" stroke-width="4.6" stroke-linecap="round"/>
<text x="576.5" y="336.06" font-size="33" font-weight="bold" text-anchor="end" fill="#000">100</text>
<line x1="581" y1="262.2" x2="595.2" y2="262.2" stroke="#000" stroke-width="4.6" stroke-linecap="round"/>
<text x="576.5" y="274.01" font-size="33" font-weight="bold" text-anchor="end" fill="#000">120</text>
<line x1="581" y1="634.5" x2="829.6" y2="634.5" stroke="#000" stroke-width="4.6" stroke-linecap="round"/>
<text font-size="33" font-weight="bold" text-anchor="middle" transform="translate(435.5 448.5) rotate(-90)">PCYOX1 antigen level</text>
<text font-size="33" font-weight="bold" text-anchor="middle" transform="translate(469.3 448.5) rotate(-90)">densitometric analysis</text>
<text font-size="33" font-weight="bold" text-anchor="middle" transform="translate(502.5 444.8) rotate(-90)">(% vs control cells)</text>
<line x1="614.4" y1="324.7" x2="693.2" y2="324.7" stroke="#000" stroke-width="2.4" stroke-linecap="butt"/>
<line x1="653.8" y1="324.7" x2="653.8" y2="324.7" stroke="#000" stroke-width="2.4" stroke-linecap="butt"/>
<line x1="653.8" y1="324.7" x2="653.8" y2="324.7" stroke="#000" stroke-width="2.4" stroke-linecap="butt"/>
<line x1="653.8" y1="324.7" x2="653.8" y2="324.7" stroke="#000" stroke-width="2.4" stroke-linecap="butt"/>
<circle cx="653.8" cy="324.7" r="9.2" fill="#d3d3d3" stroke="#000" stroke-width="2.6"/>
<line x1="730.7" y1="583" x2="809.3" y2="583" stroke="#000" stroke-width="2.4" stroke-linecap="butt"/>
<line x1="770" y1="577.5" x2="770" y2="588.5" stroke="#000" stroke-width="2.4" stroke-linecap="butt"/>
<line x1="750.5" y1="577.5" x2="789.5" y2="577.5" stroke="#000" stroke-width="2.4" stroke-linecap="butt"/>
<line x1="750.5" y1="588.5" x2="789.5" y2="588.5" stroke="#000" stroke-width="2.4" stroke-linecap="butt"/>
<circle cx="741.7" cy="556.6" r="9.9" fill="#000"/>
<circle cx="754.8" cy="576.7" r="9.9" fill="#000"/>
<circle cx="769.3" cy="571.2" r="9.9" fill="#000"/>
<circle cx="741.7" cy="586.8" r="9.9" fill="#000"/>
<circle cx="783.2" cy="586.8" r="9.9" fill="#000"/>
<circle cx="769.3" cy="603.1" r="9.9" fill="#000"/>
<circle cx="798.2" cy="596.8" r="9.9" fill="#000"/>
<path d="M657 307 L657 290.2 L777.7 290.2 L777.7 307" fill="none" stroke="#000" stroke-width="3.3" stroke-linejoin="miter"/>
<text x="714.54" y="276.6" font-size="30" font-weight="bold" text-anchor="middle" fill="#000">p&lt;0.01</text>
<text x="671.3" y="659.9" font-size="32.4" font-weight="bold" text-anchor="end" fill="#000" transform="rotate(-45 671.3 659.9)">control</text>
<text x="787.5" y="659.9" font-size="32.4" font-weight="bold" text-anchor="end" fill="#000" transform="rotate(-45 787.5 659.9)">shPCYOX1</text>
<text x="576" y="185.2" font-size="31.8" font-weight="bold" text-anchor="end" fill="#000">PCYOX1</text>
<text x="577.5" y="224.8" font-size="32.2" font-weight="bold" text-anchor="end" fill="#000">50 kDa</text>
<line x1="577.5" y1="206.3" x2="601.5" y2="206.3" stroke="#555" stroke-width="1" stroke-linecap="butt"/>
<rect x="605.3" y="148.2" width="225.3" height="85.4" fill="#dcdcdc" stroke="#4a4a4a" stroke-width="1.1"/>
<rect x="606.2" y="149.1" width="223.5" height="83.6" filter="url(#noiseB)" opacity="0.55"/>
<ellipse cx="644.0" cy="197.6" rx="31.5" ry="8.8" fill="#161616" filter="url(#blur2)"/>
<ellipse cx="638" cy="198.2" rx="20" ry="7.4" fill="#0c0c0c" filter="url(#blur2)"/>
<ellipse cx="788" cy="192.6" rx="29" ry="3.0" fill="#9a9a9a" opacity="0.9" transform="rotate(-7 788 192.6)" filter="url(#blur2)"/>
<ellipse cx="772" cy="194.6" rx="15" ry="3.6" fill="#808080" opacity="0.9" transform="rotate(-6 772 194.6)" filter="url(#blur2)"/>
<ellipse cx="803" cy="190.8" rx="15" ry="3.4" fill="#868686" opacity="0.85" transform="rotate(-8 803 190.8)" filter="url(#blur2)"/>
<path d="M825.6 195.2 L829.6 196.8 L829.4 200.2 Z" fill="#222"/>
<text x="717.7" y="72" font-size="32.3" font-weight="bold" text-anchor="end" fill="#000" transform="rotate(-38.3 717.7 72)">control</text>
<text x="871.9" y="31.5" font-size="32.5" font-weight="bold" text-anchor="end" fill="#000" transform="rotate(-33.5 871.9 31.5)">shPCYOX1</text>
<text x="885.9" y="77.7" font-size="40" font-weight="bold" text-anchor="start" fill="#000">c</text>
<line x1="1015" y1="233.9" x2="1015" y2="623.9" stroke="#000" stroke-width="4.6" stroke-linecap="butt"/>
<line x1="998.2" y1="623.9" x2="1015" y2="623.9" stroke="#000" stroke-width="4.6" stroke-linecap="round"/>
<text x="995.4" y="636.54" font-size="35.3" font-weight="bold" text-anchor="end" fill="#000">0.0</text>
<line x1="998.2" y1="546.3" x2="1015" y2="546.3" stroke="#000" stroke-width="4.6" stroke-linecap="round"/>
<text x="995.4" y="558.94" font-size="35.3" font-weight="bold" text-anchor="end" fill="#000">0.5</text>
<line x1="998.2" y1="468.7" x2="1015" y2="468.7" stroke="#000" stroke-width="4.6" stroke-linecap="round"/>
<text x="995.4" y="481.34" font-size="35.3" font-weight="bold" text-anchor="end" fill="#000">1.0</text>
<line x1="998.2" y1="391.1" x2="1015" y2="391.1" stroke="#000" stroke-width="4.6" stroke-linecap="round"/>
<text x="995.4" y="403.74" font-size="35.3" font-weight="bold" text-anchor="end" fill="#000">1.5</text>
<line x1="998.2" y1="313.5" x2="1015" y2="313.5" stroke="#000" stroke-width="4.6" stroke-linecap="round"/>
<text x="995.4" y="326.14" font-size="35.3" font-weight="bold" text-anchor="end" fill="#000">2.0</text>
<line x1="998.2" y1="235.9" x2="1015" y2="235.9" stroke="#000" stroke-width="4.6" stroke-linecap="round"/>
<text x="995.4" y="248.54" font-size="35.3" font-weight="bold" text-anchor="end" fill="#000">2.5</text>
<line x1="998.2" y1="623.9" x2="1306.6" y2="623.9" stroke="#000" stroke-width="4.6" stroke-linecap="round"/>
<text x="1014" y="656.2" font-size="32" font-weight="bold" text-anchor="middle" fill="#000">0</text>
<text x="1110.8" y="656.2" font-size="32" font-weight="bold" text-anchor="middle" fill="#000">1</text>
<text x="1207.6" y="656.2" font-size="32" font-weight="bold" text-anchor="middle" fill="#000">2</text>
<text x="1304.4" y="656.2" font-size="32" font-weight="bold" text-anchor="middle" fill="#000">3</text>
<text x="1159.8" y="710.6" font-size="36.2" font-weight="bold" text-anchor="middle" fill="#000">hours</text>
<text font-size="36" font-weight="bold" text-anchor="middle" transform="translate(927.6 431.5) rotate(-90)">H<tspan font-size="23.5" dy="6.2">2</tspan><tspan dy="-6.2">O</tspan><tspan font-size="23.5" dy="6.2">2</tspan><tspan dy="-6.2"> pmol/</tspan><tspan font-family="'Liberation Serif', serif" font-weight="normal" font-style="italic">μ</tspan>g proteins</text>
<polyline points="1014,623.9 1207.6,555.61 1304.4,456.28" fill="none" stroke="#0000ff" stroke-width="4.4" stroke-linejoin="round"/>
<polyline points="1014,623.9 1207.6,434.56 1304.4,313.5" fill="none" stroke="#ff0000" stroke-width="4.4" stroke-linejoin="round"/>
<line x1="1207.6" y1="555.61" x2="1207.6" y2="555.61" stroke="#0000ff" stroke-width="2.3" stroke-linecap="butt"/>
<line x1="1207.6" y1="546" x2="1207.6" y2="567.2" stroke="#0000ff" stroke-width="2.3" stroke-linecap="butt"/>
<line x1="1200.3" y1="546" x2="1214.9" y2="546" stroke="#0000ff" stroke-width="2.3" stroke-linecap="butt"/>
<line x1="1200.3" y1="567.2" x2="1214.9" y2="567.2" stroke="#0000ff" stroke-width="2.3" stroke-linecap="butt"/>
<line x1="1304.4" y1="456.28" x2="1304.4" y2="456.28" stroke="#0000ff" stroke-width="2.3" stroke-linecap="butt"/>
<line x1="1304.4" y1="437.3" x2="1304.4" y2="475" stroke="#0000ff" stroke-width="2.3" stroke-linecap="butt"/>
<line x1="1297.1" y1="437.3" x2="1311.7" y2="437.3" stroke="#0000ff" stroke-width="2.3" stroke-linecap="butt"/>
<line x1="1297.1" y1="475" x2="1311.7" y2="475" stroke="#0000ff" stroke-width="2.3" stroke-linecap="butt"/>
<line x1="1207.6" y1="434.56" x2="1207.6" y2="434.56" stroke="#ff0000" stroke-width="2.3" stroke-linecap="butt"/>
<line x1="1207.6" y1="417" x2="1207.6" y2="452.3" stroke="#ff0000" stroke-width="2.3" stroke-linecap="butt"/>
<line x1="1200.3" y1="417" x2="1214.9" y2="417" stroke="#ff0000" stroke-width="2.3" stroke-linecap="butt"/>
<line x1="1200.3" y1="452.3" x2="1214.9" y2="452.3" stroke="#ff0000" stroke-width="2.3" stroke-linecap="butt"/>
<line x1="1304.4" y1="313.5" x2="1304.4" y2="313.5" stroke="#ff0000" stroke-width="2.3" stroke-linecap="butt"/>
<line x1="1304.4" y1="287.3" x2="1304.4" y2="340.6" stroke="#ff0000" stroke-width="2.3" stroke-linecap="butt"/>
<line x1="1297.1" y1="287.3" x2="1311.7" y2="287.3" stroke="#ff0000" stroke-width="2.3" stroke-linecap="butt"/>
<line x1="1297.1" y1="340.6" x2="1311.7" y2="340.6" stroke="#ff0000" stroke-width="2.3" stroke-linecap="butt"/>
<circle cx="1207.6" cy="555.61" r="7.4" fill="#0000ff"/>
<circle cx="1304.4" cy="456.28" r="7.4" fill="#0000ff"/>
<rect x="1006.5" y="616.4" width="15" height="15" fill="#ff0000"/>
<rect x="1200.1" y="427.06" width="15" height="15" fill="#ff0000"/>
<rect x="1296.9" y="306" width="15" height="15" fill="#ff0000"/>
<line x1="1040" y1="281.8" x2="1093.8" y2="281.8" stroke="#0000ff" stroke-width="5" stroke-linecap="butt"/>
<circle cx="1067.3" cy="281.8" r="7.1" fill="#0000ff"/>
<text x="1122.3" y="293.7" font-size="35.6" font-weight="bold" text-anchor="start" fill="#000">shPCYOX1</text>
<line x1="1040" y1="337.8" x2="1093.8" y2="337.8" stroke="#ff0000" stroke-width="5" stroke-linecap="butt"/>
<rect x="1059.6" y="330.6" width="15" height="15" fill="#ff0000"/>
<text x="1122.2" y="350.8" font-size="36.5" font-weight="bold" text-anchor="start" fill="#000">control</text>
<text x="1000.3" y="158.4" font-size="32.3" font-weight="bold" text-anchor="end" fill="#000">PCYOX1</text>
<text x="1003.3" y="198.4" font-size="33" font-weight="bold" text-anchor="end" fill="#000">50 kDa</text>
<line x1="1010" y1="181.5" x2="1042.5" y2="181.5" stroke="#555" stroke-width="1" stroke-linecap="butt"/>
<rect x="1042.6" y="120.0" width="269.0" height="96.5" fill="#c3c3c3" stroke="#4a4a4a" stroke-width="1.1"/>
<rect x="1043.5" y="120.9" width="267.2" height="94.7" filter="url(#noiseC)" opacity="0.45"/>
<rect x="1077" y="171.8" width="43" height="13.6" rx="6.5" fill="#050505" filter="url(#blur15)"/>
<ellipse cx="1249" cy="182" rx="21" ry="3.2" fill="#acacac" filter="url(#blur2)"/>
<text x="1146.4" y="41.1" font-size="32.1" font-weight="bold" text-anchor="end" fill="#000" transform="rotate(-40.5 1146.4 41.1)">control</text>
<text x="1322" y="16.8" font-size="32.3" font-weight="bold" text-anchor="end" fill="#000" transform="rotate(-34.3 1322 16.8)">shPCYOX1</text>
<text x="1350.4" y="95.7" font-size="40" font-weight="bold" text-anchor="start" fill="#000">d</text>
<line x1="1489.3" y1="248.5" x2="1489.3" y2="628" stroke="#000" stroke-width="4.6" stroke-linecap="butt"/>
<line x1="1475" y1="628" x2="1489.3" y2="628" stroke="#000" stroke-width="4.6" stroke-linecap="round"/>
<text x="1470" y="639.81" font-size="33" font-weight="bold" text-anchor="end" fill="#000">0</text>
<line x1="1475" y1="552.5" x2="1489.3" y2="552.5" stroke="#000" stroke-width="4.6" stroke-linecap="round"/>
<text x="1470" y="564.31" font-size="33" font-weight="bold" text-anchor="end" fill="#000">50</text>
<line x1="1475" y1="477" x2="1489.3" y2="477" stroke="#000" stroke-width="4.6" stroke-linecap="round"/>
<text x="1470" y="488.81" font-size="33" font-weight="bold" text-anchor="end" fill="#000">100</text>
<line x1="1475" y1="401.5" x2="1489.3" y2="401.5" stroke="#000" stroke-width="4.6" stroke-linecap="round"/>
<text x="1470" y="413.31" font-size="33" font-weight="bold" text-anchor="end" fill="#000">150</text>
<line x1="1475" y1="326" x2="1489.3" y2="326" stroke="#000" stroke-width="4.6" stroke-linecap="round"/>
<text x="1470" y="337.81" font-size="33" font-weight="bold" text-anchor="end" fill="#000">200</text>
<line x1="1475" y1="250.5" x2="1489.3" y2="250.5" stroke="#000" stroke-width="4.6" stroke-linecap="round"/>
<text x="1470" y="262.31" font-size="33" font-weight="bold" text-anchor="end" fill="#000">250</text>
<line x1="1475" y1="628" x2="1724" y2="628" stroke="#000" stroke-width="4.6" stroke-linecap="round"/>
<text font-size="34.6" font-weight="bold" text-anchor="middle" transform="translate(1351.5 441.5) rotate(-90)">ROS production</text>
<text font-size="34.6" font-weight="bold" text-anchor="middle" transform="translate(1392.3 443) rotate(-90)">(% increase over T0)</text>
<line x1="1508.5" y1="434" x2="1587.5" y2="434" stroke="#000" stroke-width="2.4" stroke-linecap="butt"/>
<line x1="1548" y1="361" x2="1548" y2="508" stroke="#000" stroke-width="2.4" stroke-linecap="butt"/>
<line x1="1527.5" y1="361" x2="1568.5" y2="361" stroke="#000" stroke-width="2.4" stroke-linecap="butt"/>
<line x1="1527.5" y1="508" x2="1568.5" y2="508" stroke="#000" stroke-width="2.4" stroke-linecap="butt"/>
<circle cx="1548" cy="329.6" r="9.2" fill="#d3d3d3" stroke="#000" stroke-width="2.6"/>
<circle cx="1519.5" cy="406" r="9.2" fill="#d3d3d3" stroke="#000" stroke-width="2.6"/>
<circle cx="1577" cy="404.7" r="9.2" fill="#d3d3d3" stroke="#000" stroke-width="2.6"/>
<circle cx="1548" cy="428.6" r="9.2" fill="#d3d3d3" stroke="#000" stroke-width="2.6"/>
<circle cx="1577" cy="514.7" r="9.2" fill="#d3d3d3" stroke="#000" stroke-width="2.6"/>
<circle cx="1548" cy="522.3" r="9.2" fill="#d3d3d3" stroke="#000" stroke-width="2.6"/>
<line x1="1625.5" y1="526" x2="1704.5" y2="526" stroke="#000" stroke-width="2.4" stroke-linecap="butt"/>
<line x1="1665" y1="502" x2="1665" y2="550.7" stroke="#000" stroke-width="2.4" stroke-linecap="butt"/>
<line x1="1645" y1="502" x2="1685" y2="502" stroke="#000" stroke-width="2.4" stroke-linecap="butt"/>
<line x1="1645" y1="550.7" x2="1685" y2="550.7" stroke="#000" stroke-width="2.4" stroke-linecap="butt"/>
<circle cx="1665" cy="501.4" r="9.9" fill="#000"/>
<circle cx="1693.5" cy="496.3" r="9.9" fill="#000"/>
<circle cx="1636.6" cy="529.8" r="9.9" fill="#000"/>
<circle cx="1665" cy="531" r="9.9" fill="#000"/>
<circle cx="1693.5" cy="537.4" r="9.9" fill="#000"/>
<circle cx="1665" cy="562.6" r="9.9" fill="#000"/>
<path d="M1552 310.2 L1552 293.4 L1672.9 293.4 L1672.9 310.2" fill="none" stroke="#000" stroke-width="3.3" stroke-linejoin="miter"/>
<text x="1611.54" y="283" font-size="30" font-weight="bold" text-anchor="middle" fill="#000">p&lt;0.01</text>
<text x="1568.5" y="656.8" font-size="32.4" font-weight="bold" text-anchor="end" fill="#000" transform="rotate(-45 1568.5 656.8)">control</text>
<text x="1685.5" y="656.8" font-size="32.4" font-weight="bold" text-anchor="end" fill="#000" transform="rotate(-45 1685.5 656.8)">shPCYOX1</text>
<text x="757.5" y="915.4" font-size="40" font-weight="bold" text-anchor="start" fill="#000">f</text>
<line x1="936.6" y1="891.09" x2="936.6" y2="1175.6" stroke="#000" stroke-width="4.6" stroke-linecap="butt"/>
<line x1="921.4" y1="1175.6" x2="936.6" y2="1175.6" stroke="#000" stroke-width="4.6" stroke-linecap="round"/>
<text x="916.5" y="1187.41" font-size="33" font-weight="bold" text-anchor="end" fill="#000">0</text>
<line x1="921.4" y1="1081.43" x2="936.6" y2="1081.43" stroke="#000" stroke-width="4.6" stroke-linecap="round"/>
<text x="916.5" y="1093.24" font-size="33" font-weight="bold" text-anchor="end" fill="#000">100</text>
<line x1="921.4" y1="987.26" x2="936.6" y2="987.26" stroke="#000" stroke-width="4.6" stroke-linecap="round"/>
<text x="916.5" y="999.07" font-size="33" font-weight="bold" text-anchor="end" fill="#000">200</text>
<line x1="921.4" y1="893.09" x2="936.6" y2="893.09" stroke="#000" stroke-width="4.6" stroke-linecap="round"/>
<text x="916.5" y="904.9" font-size="33" font-weight="bold" text-anchor="end" fill="#000">300</text>
<line x1="921.4" y1="1175.6" x2="1126.3" y2="1175.6" stroke="#000" stroke-width="4.6" stroke-linecap="round"/>
<text font-size="34.2" font-weight="bold" text-anchor="middle" transform="translate(839.1 1036.3) rotate(-90)">PAI1 (ng/ml)</text>
<line x1="951.9" y1="1036.3" x2="1015.5" y2="1036.3" stroke="#000" stroke-width="2.4" stroke-linecap="butt"/>
<line x1="983.7" y1="1014" x2="983.7" y2="1057.6" stroke="#000" stroke-width="2.4" stroke-linecap="butt"/>
<line x1="967.2" y1="1014" x2="1000.2" y2="1014" stroke="#000" stroke-width="2.4" stroke-linecap="butt"/>
<line x1="967.2" y1="1057.6" x2="1000.2" y2="1057.6" stroke="#000" stroke-width="2.4" stroke-linecap="butt"/>
<circle cx="983.7" cy="911.1" r="9.2" fill="#d3d3d3" stroke="#000" stroke-width="2.6"/>
<circle cx="983.7" cy="978.7" r="9.2" fill="#d3d3d3" stroke="#000" stroke-width="2.6"/>
<circle cx="968" cy="1024" r="9.2" fill="#d3d3d3" stroke="#000" stroke-width="2.6"/>
<circle cx="970" cy="1030" r="9.2" fill="#d3d3d3" stroke="#000" stroke-width="2.6"/>
<circle cx="996.5" cy="1022.5" r="9.2" fill="#d3d3d3" stroke="#000" stroke-width="2.6"/>
<circle cx="998" cy="1028" r="9.2" fill="#d3d3d3" stroke="#000" stroke-width="2.6"/>
<circle cx="983.7" cy="1090.3" r="9.2" fill="#d3d3d3" stroke="#000" stroke-width="2.6"/>
<circle cx="998" cy="1107.5" r="9.2" fill="#d3d3d3" stroke="#000" stroke-width="2.6"/>
<circle cx="969.3" cy="1124" r="9.2" fill="#d3d3d3" stroke="#000" stroke-width="2.6"/>
<line x1="1045.2" y1="1097.8" x2="1108.8" y2="1097.8" stroke="#000" stroke-width="2.4" stroke-linecap="butt"/>
<line x1="1077" y1="1086" x2="1077" y2="1104.5" stroke="#000" stroke-width="2.4" stroke-linecap="butt"/>
<line x1="1062.5" y1="1086" x2="1091.5" y2="1086" stroke="#000" stroke-width="2.4" stroke-linecap="butt"/>
<line x1="1062.5" y1="1104.5" x2="1091.5" y2="1104.5" stroke="#000" stroke-width="2.4" stroke-linecap="butt"/>
<circle cx="1071" cy="1066.8" r="9.9" fill="#000"/>
<circle cx="1086.2" cy="1066" r="9.9" fill="#000"/>
<circle cx="1062.6" cy="1089.8" r="9.9" fill="#000"/>
<circle cx="1076.5" cy="1089.8" r="9.9" fill="#000"/>
<circle cx="1091" cy="1086" r="9.9" fill="#000"/>
<circle cx="1091.7" cy="1102.8" r="9.9" fill="#000"/>
<circle cx="1062.6" cy="1125" r="9.9" fill="#000"/>
<circle cx="1091.7" cy="1125.8" r="9.9" fill="#000"/>
<path d="M980.9 891.4 L980.9 875.7 L1090.3 875.7 L1090.3 891.4" fill="none" stroke="#000" stroke-width="3.3" stroke-linejoin="miter"/>
<text x="1034.74" y="868.2" font-size="30" font-weight="bold" text-anchor="middle" fill="#000">p&lt;0.05</text>
<text x="991" y="1209.6" font-size="32.4" font-weight="bold" text-anchor="end" fill="#000" transform="rotate(-45 991 1209.6)">control</text>
<text x="1084.3" y="1209.6" font-size="32.4" font-weight="bold" text-anchor="end" fill="#000" transform="rotate(-45 1084.3 1209.6)">shPCYOX1</text>
<text x="1256.7" y="907.9" font-size="40" font-weight="bold" text-anchor="start" fill="#000">g</text>
<line x1="1478.2" y1="891.09" x2="1478.2" y2="1175.6" stroke="#000" stroke-width="4.6" stroke-linecap="butt"/>
<line x1="1463.8" y1="1175.6" x2="1478.2" y2="1175.6" stroke="#000" stroke-width="4.6" stroke-linecap="round"/>
<text x="1458.5" y="1187.41" font-size="33" font-weight="bold" text-anchor="end" fill="#000">0</text>
<line x1="1463.8" y1="1081.43" x2="1478.2" y2="1081.43" stroke="#000" stroke-width="4.6" stroke-linecap="round"/>
<text x="1458.5" y="1093.24" font-size="33" font-weight="bold" text-anchor="end" fill="#000">500</text>
<line x1="1463.8" y1="987.26" x2="1478.2" y2="987.26" stroke="#000" stroke-width="4.6" stroke-linecap="round"/>
<text x="1458.5" y="999.07" font-size="33" font-weight="bold" text-anchor="end" fill="#000">1000</text>
<line x1="1463.8" y1="893.09" x2="1478.2" y2="893.09" stroke="#000" stroke-width="4.6" stroke-linecap="round"/>
<text x="1458.5" y="904.9" font-size="33" font-weight="bold" text-anchor="end" fill="#000">1500</text>
<line x1="1463.8" y1="1175.6" x2="1669.2" y2="1175.6" stroke="#000" stroke-width="4.6" stroke-linecap="round"/>
<text font-size="33.5" font-weight="bold" text-anchor="middle" transform="translate(1360.6 1038.3) rotate(-90)">THBS1 (ng/ml)</text>
<line x1="1494.2" y1="940.2" x2="1557.8" y2="940.2" stroke="#000" stroke-width="2.4" stroke-linecap="butt"/>
<line x1="1526" y1="927" x2="1526" y2="953.2" stroke="#000" stroke-width="2.4" stroke-linecap="butt"/>
<line x1="1510.5" y1="927" x2="1541.5" y2="927" stroke="#000" stroke-width="2.4" stroke-linecap="butt"/>
<line x1="1510.5" y1="953.2" x2="1541.5" y2="953.2" stroke="#000" stroke-width="2.4" stroke-linecap="butt"/>
<circle cx="1511.4" cy="913" r="9.2" fill="#d3d3d3" stroke="#000" stroke-width="2.6"/>
<circle cx="1540.5" cy="926.4" r="9.2" fill="#d3d3d3" stroke="#000" stroke-width="2.6"/>
<circle cx="1540.5" cy="947.7" r="9.2" fill="#d3d3d3" stroke="#000" stroke-width="2.6"/>
<circle cx="1511.4" cy="973.5" r="9.2" fill="#d3d3d3" stroke="#000" stroke-width="2.6"/>
<line x1="1588.2" y1="1083.4" x2="1651.8" y2="1083.4" stroke="#000" stroke-width="2.4" stroke-linecap="butt"/>
<line x1="1620" y1="1070" x2="1620" y2="1098" stroke="#000" stroke-width="2.4" stroke-linecap="butt"/>
<line x1="1605" y1="1070" x2="1635" y2="1070" stroke="#000" stroke-width="2.4" stroke-linecap="butt"/>
<line x1="1605" y1="1098" x2="1635" y2="1098" stroke="#000" stroke-width="2.4" stroke-linecap="butt"/>
<circle cx="1605" cy="1051" r="9.9" fill="#000"/>
<circle cx="1634.6" cy="1073.7" r="9.9" fill="#000"/>
<circle cx="1605" cy="1105.5" r="9.9" fill="#000"/>
<circle cx="1634.6" cy="1105.5" r="9.9" fill="#000"/>
<path d="M1528 900.7 L1528 880.9 L1622.3 880.9 L1622.3 900.7" fill="none" stroke="#000" stroke-width="3.3" stroke-linejoin="miter"/>
<text x="1573.74" y="869.6" font-size="30" font-weight="bold" text-anchor="middle" fill="#000">p&lt;0.05</text>
<text x="1533.7" y="1209.1" font-size="32.4" font-weight="bold" text-anchor="end" fill="#000" transform="rotate(-45 1533.7 1209.1)">control</text>
<text x="1627.7" y="1209.1" font-size="32.4" font-weight="bold" text-anchor="end" fill="#000" transform="rotate(-45 1627.7 1209.1)">shPCYOX1</text>
<text x="669.5" y="1376.9" font-size="40" font-weight="bold" text-anchor="start" fill="#000">h</text>
<line x1="842.9" y1="1406.68" x2="842.9" y2="1689" stroke="#000" stroke-width="4.6" stroke-linecap="butt"/>
<line x1="828" y1="1689" x2="842.9" y2="1689" stroke="#000" stroke-width="4.6" stroke-linecap="round"/>
<text x="823" y="1700.81" font-size="33" font-weight="bold" text-anchor="end" fill="#000">0</text>
<line x1="828" y1="1618.92" x2="842.9" y2="1618.92" stroke="#000" stroke-width="4.6" stroke-linecap="round"/>
<text x="823" y="1630.73" font-size="33" font-weight="bold" text-anchor="end" fill="#000">500</text>
<line x1="828" y1="1548.84" x2="842.9" y2="1548.84" stroke="#000" stroke-width="4.6" stroke-linecap="round"/>
<text x="823" y="1560.65" font-size="33" font-weight="bold" text-anchor="end" fill="#000">1000</text>
<line x1="828" y1="1478.76" x2="842.9" y2="1478.76" stroke="#000" stroke-width="4.6" stroke-linecap="round"/>
<text x="823" y="1490.57" font-size="33" font-weight="bold" text-anchor="end" fill="#000">1500</text>
<line x1="828" y1="1408.68" x2="842.9" y2="1408.68" stroke="#000" stroke-width="4.6" stroke-linecap="round"/>
<text x="823" y="1420.49" font-size="33" font-weight="bold" text-anchor="end" fill="#000">2000</text>
<line x1="828" y1="1689" x2="1031" y2="1689" stroke="#000" stroke-width="4.6" stroke-linecap="round"/>
<text font-size="33.8" font-weight="bold" text-anchor="middle" transform="translate(725 1550.3) rotate(-90)">CXCL8 (pg/ml)</text>
<line x1="858.3" y1="1548.7" x2="921.9" y2="1548.7" stroke="#000" stroke-width="2.4" stroke-linecap="butt"/>
<line x1="890.1" y1="1530" x2="890.1" y2="1568.2" stroke="#000" stroke-width="2.4" stroke-linecap="butt"/>
<line x1="874.1" y1="1530" x2="906.1" y2="1530" stroke="#000" stroke-width="2.4" stroke-linecap="butt"/>
<line x1="874.1" y1="1568.2" x2="906.1" y2="1568.2" stroke="#000" stroke-width="2.4" stroke-linecap="butt"/>
<circle cx="890.1" cy="1425.3" r="9.2" fill="#d3d3d3" stroke="#000" stroke-width="2.6"/>
<circle cx="890.1" cy="1485.6" r="9.2" fill="#d3d3d3" stroke="#000" stroke-width="2.6"/>
<circle cx="904.6" cy="1506" r="9.2" fill="#d3d3d3" stroke="#000" stroke-width="2.6"/>
<circle cx="875.4" cy="1519" r="9.2" fill="#d3d3d3" stroke="#000" stroke-width="2.6"/>
<circle cx="890.1" cy="1533" r="9.2" fill="#d3d3d3" stroke="#000" stroke-width="2.6"/>
<circle cx="904" cy="1540.7" r="9.2" fill="#d3d3d3" stroke="#000" stroke-width="2.6"/>
<circle cx="890.1" cy="1564.9" r="9.2" fill="#d3d3d3" stroke="#000" stroke-width="2.6"/>
<circle cx="875.4" cy="1580" r="9.2" fill="#d3d3d3" stroke="#000" stroke-width="2.6"/>
<circle cx="890.1" cy="1608" r="9.2" fill="#d3d3d3" stroke="#000" stroke-width="2.6"/>
<circle cx="904.6" cy="1629.6" r="9.2" fill="#d3d3d3" stroke="#000" stroke-width="2.6"/>
<circle cx="890.1" cy="1641.3" r="9.2" fill="#d3d3d3" stroke="#000" stroke-width="2.6"/>
<line x1="952" y1="1615.4" x2="1015.6" y2="1615.4" stroke="#000" stroke-width="2.4" stroke-linecap="butt"/>
<line x1="983.8" y1="1605" x2="983.8" y2="1625.5" stroke="#000" stroke-width="2.4" stroke-linecap="butt"/>
<line x1="969.8" y1="1605" x2="997.8" y2="1605" stroke="#000" stroke-width="2.4" stroke-linecap="butt"/>
<line x1="969.8" y1="1625.5" x2="997.8" y2="1625.5" stroke="#000" stroke-width="2.4" stroke-linecap="butt"/>
<circle cx="983.8" cy="1535.7" r="9.9" fill="#000"/>
<circle cx="998.5" cy="1590.7" r="9.9" fill="#000"/>
<circle cx="983.8" cy="1597.4" r="9.9" fill="#000"/>
<circle cx="969" cy="1619" r="9.9" fill="#000"/>
<circle cx="983.8" cy="1612" r="9.9" fill="#000"/>
<circle cx="998.5" cy="1620.4" r="9.9" fill="#000"/>
<circle cx="983.8" cy="1634.3" r="9.9" fill="#000"/>
<circle cx="998.5" cy="1658" r="9.9" fill="#000"/>
<circle cx="983.8" cy="1671.3" r="9.9" fill="#000"/>
<path d="M887.1 1409.6 L887.1 1389.1 L981.7 1389.1 L981.7 1409.6" fill="none" stroke="#000" stroke-width="3.3" stroke-linejoin="miter"/>
<text x="935.44" y="1379.3" font-size="30" font-weight="bold" text-anchor="middle" fill="#000">p&lt;0.05</text>
<text x="901.2" y="1722.4" font-size="32.4" font-weight="bold" text-anchor="end" fill="#000" transform="rotate(-45 901.2 1722.4)">control</text>
<text x="994.9" y="1722.4" font-size="32.4" font-weight="bold" text-anchor="end" fill="#000" transform="rotate(-45 994.9 1722.4)">shPCYOX1</text>
<text x="1079.2" y="1374.7" font-size="40" font-weight="bold" text-anchor="start" fill="#000">i</text>
<line x1="1205.4" y1="1399.69" x2="1205.4" y2="1683.9" stroke="#000" stroke-width="4.6" stroke-linecap="butt"/>
<line x1="1191.5" y1="1683.9" x2="1205.4" y2="1683.9" stroke="#000" stroke-width="4.6" stroke-linecap="round"/>
<text x="1186" y="1695.71" font-size="33" font-weight="bold" text-anchor="end" fill="#000">0</text>
<line x1="1191.5" y1="1589.83" x2="1205.4" y2="1589.83" stroke="#000" stroke-width="4.6" stroke-linecap="round"/>
<text x="1186" y="1601.64" font-size="33" font-weight="bold" text-anchor="end" fill="#000">20</text>
<line x1="1191.5" y1="1495.76" x2="1205.4" y2="1495.76" stroke="#000" stroke-width="4.6" stroke-linecap="round"/>
<text x="1186" y="1507.57" font-size="33" font-weight="bold" text-anchor="end" fill="#000">40</text>
<line x1="1191.5" y1="1401.69" x2="1205.4" y2="1401.69" stroke="#000" stroke-width="4.6" stroke-linecap="round"/>
<text x="1186" y="1413.5" font-size="33" font-weight="bold" text-anchor="end" fill="#000">60</text>
<line x1="1191.5" y1="1683.9" x2="1395.8" y2="1683.9" stroke="#000" stroke-width="4.6" stroke-linecap="round"/>
<text font-size="33.8" font-weight="bold" text-anchor="middle" transform="translate(1129 1545.5) rotate(-90)">GDF15 (ng/ml)</text>
<line x1="1222.2" y1="1529.3" x2="1285.8" y2="1529.3" stroke="#000" stroke-width="2.4" stroke-linecap="butt"/>
<line x1="1254" y1="1514.9" x2="1254" y2="1544" stroke="#000" stroke-width="2.4" stroke-linecap="butt"/>
<line x1="1238" y1="1514.9" x2="1270" y2="1514.9" stroke="#000" stroke-width="2.4" stroke-linecap="butt"/>
<line x1="1238" y1="1544" x2="1270" y2="1544" stroke="#000" stroke-width="2.4" stroke-linecap="butt"/>
<circle cx="1254" cy="1419.5" r="9.2" fill="#d3d3d3" stroke="#000" stroke-width="2.6"/>
<circle cx="1268.5" cy="1474" r="9.2" fill="#d3d3d3" stroke="#000" stroke-width="2.6"/>
<circle cx="1239.6" cy="1490" r="9.2" fill="#d3d3d3" stroke="#000" stroke-width="2.6"/>
<circle cx="1254" cy="1491.8" r="9.2" fill="#d3d3d3" stroke="#000" stroke-width="2.6"/>
<circle cx="1239.6" cy="1501" r="9.2" fill="#d3d3d3" stroke="#000" stroke-width="2.6"/>
<circle cx="1268.5" cy="1499" r="9.2" fill="#d3d3d3" stroke="#000" stroke-width="2.6"/>
<circle cx="1239.6" cy="1521.8" r="9.2" fill="#d3d3d3" stroke="#000" stroke-width="2.6"/>
<circle cx="1268.5" cy="1516.3" r="9.2" fill="#d3d3d3" stroke="#000" stroke-width="2.6"/>
<circle cx="1268.5" cy="1555.7" r="9.2" fill="#d3d3d3" stroke="#000" stroke-width="2.6"/>
<circle cx="1239.6" cy="1571.3" r="9.2" fill="#d3d3d3" stroke="#000" stroke-width="2.6"/>
<circle cx="1254" cy="1573.3" r="9.2" fill="#d3d3d3" stroke="#000" stroke-width="2.6"/>
<circle cx="1239.6" cy="1588.5" r="9.2" fill="#d3d3d3" stroke="#000" stroke-width="2.6"/>
<circle cx="1268.5" cy="1598.3" r="9.2" fill="#d3d3d3" stroke="#000" stroke-width="2.6"/>
<circle cx="1254" cy="1608" r="9.2" fill="#d3d3d3" stroke="#000" stroke-width="2.6"/>
<line x1="1316.2" y1="1583.5" x2="1379.8" y2="1583.5" stroke="#000" stroke-width="2.4" stroke-linecap="butt"/>
<line x1="1348" y1="1574" x2="1348" y2="1593" stroke="#000" stroke-width="2.4" stroke-linecap="butt"/>
<line x1="1334" y1="1574" x2="1362" y2="1574" stroke="#000" stroke-width="2.4" stroke-linecap="butt"/>
<line x1="1334" y1="1593" x2="1362" y2="1593" stroke="#000" stroke-width="2.4" stroke-linecap="butt"/>
<circle cx="1334" cy="1510.7" r="9.9" fill="#000"/>
<circle cx="1362" cy="1515.7" r="9.9" fill="#000"/>
<circle cx="1335" cy="1562" r="9.9" fill="#000"/>
<circle cx="1348.5" cy="1563" r="9.9" fill="#000"/>
<circle cx="1362" cy="1562.5" r="9.9" fill="#000"/>
<circle cx="1333" cy="1578" r="9.9" fill="#000"/>
<circle cx="1348.5" cy="1585" r="9.9" fill="#000"/>
<circle cx="1363" cy="1582" r="9.9" fill="#000"/>
<circle cx="1355" cy="1595" r="9.9" fill="#000"/>
<circle cx="1334" cy="1616" r="9.9" fill="#000"/>
<circle cx="1348.5" cy="1619" r="9.9" fill="#000"/>
<circle cx="1363" cy="1611" r="9.9" fill="#000"/>
<circle cx="1348.5" cy="1649.7" r="9.9" fill="#000"/>
<path d="M1250.2 1404.3 L1250.2 1384.1 L1344.8 1384.1 L1344.8 1404.3" fill="none" stroke="#000" stroke-width="3.3" stroke-linejoin="miter"/>
<text x="1301.54" y="1374.3" font-size="30" font-weight="bold" text-anchor="middle" fill="#000">p&lt;0.05</text>
<text x="1261" y="1718.1" font-size="32.4" font-weight="bold" text-anchor="end" fill="#000" transform="rotate(-45 1261 1718.1)">control</text>
<text x="1355" y="1718.1" font-size="32.4" font-weight="bold" text-anchor="end" fill="#000" transform="rotate(-45 1355 1718.1)">shPCYOX1</text>
<text x="1407.6" y="1375.2" font-size="40" font-weight="bold" text-anchor="start" fill="#000">j</text>
<line x1="1559" y1="1391.4" x2="1559" y2="1676" stroke="#000" stroke-width="4.6" stroke-linecap="butt"/>
<line x1="1544.5" y1="1676" x2="1559" y2="1676" stroke="#000" stroke-width="4.6" stroke-linecap="round"/>
<text x="1539.5" y="1687.81" font-size="33" font-weight="bold" text-anchor="end" fill="#000">0</text>
<line x1="1544.5" y1="1605.35" x2="1559" y2="1605.35" stroke="#000" stroke-width="4.6" stroke-linecap="round"/>
<text x="1539.5" y="1617.16" font-size="33" font-weight="bold" text-anchor="end" fill="#000">50</text>
<line x1="1544.5" y1="1534.7" x2="1559" y2="1534.7" stroke="#000" stroke-width="4.6" stroke-linecap="round"/>
<text x="1539.5" y="1546.51" font-size="33" font-weight="bold" text-anchor="end" fill="#000">100</text>
<line x1="1544.5" y1="1464.05" x2="1559" y2="1464.05" stroke="#000" stroke-width="4.6" stroke-linecap="round"/>
<text x="1539.5" y="1475.86" font-size="33" font-weight="bold" text-anchor="end" fill="#000">150</text>
<line x1="1544.5" y1="1393.4" x2="1559" y2="1393.4" stroke="#000" stroke-width="4.6" stroke-linecap="round"/>
<text x="1539.5" y="1405.21" font-size="33" font-weight="bold" text-anchor="end" fill="#000">200</text>
<line x1="1544.5" y1="1676" x2="1748.8" y2="1676" stroke="#000" stroke-width="4.6" stroke-linecap="round"/>
<text font-size="34.5" font-weight="bold" text-anchor="middle" transform="translate(1462.7 1538.5) rotate(-90)">follistatin (ng/ml)</text>
<line x1="1574.4" y1="1515.7" x2="1638" y2="1515.7" stroke="#000" stroke-width="2.4" stroke-linecap="butt"/>
<line x1="1606.2" y1="1503" x2="1606.2" y2="1528.8" stroke="#000" stroke-width="2.4" stroke-linecap="butt"/>
<line x1="1590.7" y1="1503" x2="1621.7" y2="1503" stroke="#000" stroke-width="2.4" stroke-linecap="butt"/>
<line x1="1590.7" y1="1528.8" x2="1621.7" y2="1528.8" stroke="#000" stroke-width="2.4" stroke-linecap="butt"/>
<circle cx="1606.2" cy="1444" r="9.2" fill="#d3d3d3" stroke="#000" stroke-width="2.6"/>
<circle cx="1577" cy="1482.3" r="9.2" fill="#d3d3d3" stroke="#000" stroke-width="2.6"/>
<circle cx="1606.2" cy="1482.3" r="9.2" fill="#d3d3d3" stroke="#000" stroke-width="2.6"/>
<circle cx="1605.7" cy="1495.4" r="9.2" fill="#d3d3d3" stroke="#000" stroke-width="2.6"/>
<circle cx="1627.3" cy="1501.8" r="9.2" fill="#d3d3d3" stroke="#000" stroke-width="2.6"/>
<circle cx="1583.4" cy="1505.7" r="9.2" fill="#d3d3d3" stroke="#000" stroke-width="2.6"/>
<circle cx="1597.9" cy="1506.5" r="9.2" fill="#d3d3d3" stroke="#000" stroke-width="2.6"/>
<circle cx="1606.2" cy="1517.6" r="9.2" fill="#d3d3d3" stroke="#000" stroke-width="2.6"/>
<circle cx="1577" cy="1526.8" r="9.2" fill="#d3d3d3" stroke="#000" stroke-width="2.6"/>
<circle cx="1606.2" cy="1530.7" r="9.2" fill="#d3d3d3" stroke="#000" stroke-width="2.6"/>
<circle cx="1591.8" cy="1606.5" r="9.2" fill="#d3d3d3" stroke="#000" stroke-width="2.6"/>
<circle cx="1620" cy="1603.8" r="9.2" fill="#d3d3d3" stroke="#000" stroke-width="2.6"/>
<line x1="1668.4" y1="1550.4" x2="1731.6" y2="1550.4" stroke="#000" stroke-width="2.4" stroke-linecap="butt"/>
<line x1="1700" y1="1540" x2="1700" y2="1560" stroke="#000" stroke-width="2.4" stroke-linecap="butt"/>
<line x1="1684.5" y1="1540" x2="1715.5" y2="1540" stroke="#000" stroke-width="2.4" stroke-linecap="butt"/>
<line x1="1684.5" y1="1560" x2="1715.5" y2="1560" stroke="#000" stroke-width="2.4" stroke-linecap="butt"/>
<circle cx="1686.3" cy="1496.2" r="9.9" fill="#000"/>
<circle cx="1714.6" cy="1495.4" r="9.9" fill="#000"/>
<circle cx="1700" cy="1505.7" r="9.9" fill="#000"/>
<circle cx="1686.3" cy="1526" r="9.9" fill="#000"/>
<circle cx="1714.6" cy="1526.8" r="9.9" fill="#000"/>
<circle cx="1700" cy="1543.5" r="9.9" fill="#000"/>
<circle cx="1686.3" cy="1549.6" r="9.9" fill="#000"/>
<circle cx="1714.6" cy="1562" r="9.9" fill="#000"/>
<circle cx="1686.3" cy="1571.2" r="9.9" fill="#000"/>
<circle cx="1714.6" cy="1578" r="9.9" fill="#000"/>
<circle cx="1686.3" cy="1588.5" r="9.9" fill="#000"/>
<circle cx="1714.6" cy="1605" r="9.9" fill="#000"/>
<circle cx="1700" cy="1610.7" r="9.9" fill="#000"/>
<path d="M1609.6 1406.8 L1609.6 1386.6 L1703.9 1386.6 L1703.9 1406.8" fill="none" stroke="#000" stroke-width="3.3" stroke-linejoin="miter"/>
<text x="1654.74" y="1375.7" font-size="30" font-weight="bold" text-anchor="middle" fill="#000">p&lt;0.05</text>
<text x="1613.5" y="1709.3" font-size="32.4" font-weight="bold" text-anchor="end" fill="#000" transform="rotate(-45 1613.5 1709.3)">control</text>
<text x="1707.3" y="1709.3" font-size="32.4" font-weight="bold" text-anchor="end" fill="#000" transform="rotate(-45 1707.3 1709.3)">shPCYOX1</text></svg></body></html>
